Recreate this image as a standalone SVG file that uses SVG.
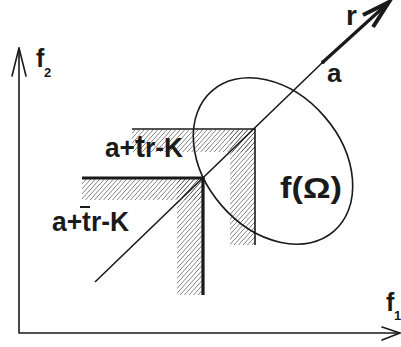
<svg xmlns="http://www.w3.org/2000/svg" width="401" height="347" viewBox="0 0 401 347">
<style>
.ax{fill:none;stroke:#1a1a1a;stroke-width:1.6;stroke-linecap:round;stroke-linejoin:round}
.thin{fill:none;stroke:#1a1a1a;stroke-width:1.6}
.thick{fill:none;stroke:#1a1a1a;stroke-width:3.2}
.lbl{font-family:"Liberation Sans",Arial,sans-serif;font-weight:bold;fill:#1a1a1a}
.hatch{fill:url(#hp);stroke:none}
</style>
<defs>
<pattern id="hp" patternUnits="userSpaceOnUse" width="4.5" height="5">
<path d="M-1,6.1 L5.5,-1.1" stroke="#444" stroke-width="0.7" fill="none"/>
</pattern>
</defs>
<g id="hatching">
<rect class="hatch" x="132" y="130" width="123" height="22"/>
<rect class="hatch" x="230" y="130" width="25" height="115"/>
<rect class="hatch" x="82" y="179" width="121" height="21"/>
<rect class="hatch" x="177" y="179" width="26" height="116"/>
</g>
<g id="axes">
<path class="ax" d="M19,48 V333 H400"/>
<path class="ax" d="M12,76 L19,48 L26,76"/>
<path class="ax" d="M382,327 L400,333 L382,340"/>
<text class="lbl" x="36" y="67" font-size="25">f</text>
<text class="lbl" x="44" y="77" font-size="13">2</text>
<text class="lbl" x="386" y="311" font-size="25">f</text>
<text class="lbl" x="394" y="320" font-size="13">1</text>
</g>
<g id="region">
<ellipse cx="273" cy="161" rx="93" ry="68" transform="rotate(49 273 161)" fill="none" stroke="#1a1a1a" stroke-width="1.6"/>
<text class="lbl" x="280" y="198" font-size="30" textLength="62" lengthAdjust="spacingAndGlyphs">f(Ω)</text>
</g>
<g id="upper-corner">
<path class="thin" d="M132,129 H255 V245"/>
<text class="lbl" x="105" y="157" font-size="27" textLength="78" lengthAdjust="spacingAndGlyphs">a+<tspan font-size="31">t</tspan>r-K</text>
</g>
<g id="lower-corner">
<path class="thick" d="M82,178 H203 V295"/>
<text class="lbl" x="52" y="231" font-size="27" textLength="77" lengthAdjust="spacingAndGlyphs">a+tr-K</text>
<line x1="80" y1="207" x2="90" y2="207" stroke="#1a1a1a" stroke-width="2"/>
</g>
<g id="connectors">
<line x1="95" y1="282" x2="323" y2="62" stroke="#1a1a1a" stroke-width="1.6"/>
<line x1="323" y1="62" x2="387" y2="4" stroke="#1a1a1a" stroke-width="3.2"/>
<circle cx="323" cy="62" r="2" fill="#1a1a1a"/>
<path d="M363,15 L389,2 L373,27" fill="none" stroke="#1a1a1a" stroke-width="4" stroke-linejoin="miter" stroke-linecap="butt"/>
</g>
<g id="labels">
<text class="lbl" x="346" y="25" font-size="28">r</text>
<text class="lbl" x="327" y="82" font-size="26">a</text>
</g>
</svg>
